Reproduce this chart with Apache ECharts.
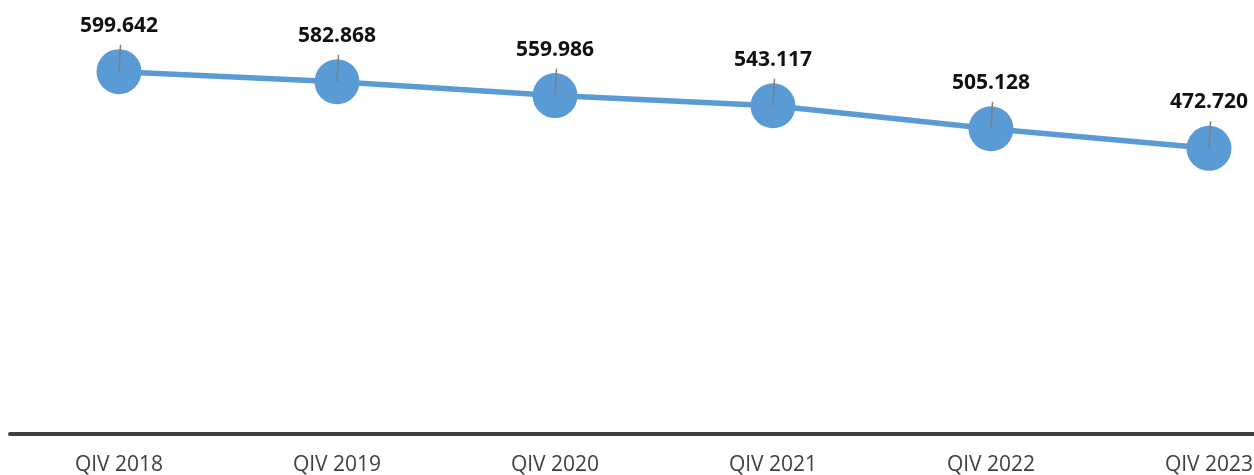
<!DOCTYPE html>
<html>
<head>
<meta charset="utf-8">
<style>
  html, body { margin: 0; padding: 0; background: #fff; }
  #chart { width: 1254px; height: 475px; }
</style>
<script src="https://cdn.jsdelivr.net/npm/echarts@6/dist/echarts.min.js"></script>
</head>
<body>
<div id="chart"></div>
<script>
// 季度
const quarters = ["QIV 2018", "QIV 2019", "QIV 2020", "QIV 2021", "QIV 2022", "QIV 2023"];
// 数值
const values = [599642, 582868, 559986, 543117, 505128, 472720];
const yMax = 700000;

// 千分位用点
const fmt = (v) => String(v).replace(/\B(?=(\d{3})+(?!\d))/g, ".");

const chart = echarts.init(document.getElementById("chart"));
chart.setOption({
  animation: false,
  grid: {
    left: 10,
    width: 1308,
    top: 11,
    bottom: 41,
    containLabel: false,
    outerBoundsMode: "none",
  },
  xAxis: {
    type: "category",
    data: quarters,
    boundaryGap: true,
    axisLine: { lineStyle: { color: "#404040", width: 4 } },
    axisTick: { show: false },
    axisLabel: {
      color: "#404040",
      fontSize: 21,
      fontFamily: "Open Sans",
      margin: 21,
    },
  },
  yAxis: {
    type: "value",
    min: 0,
    max: yMax,
    show: false,
    splitLine: { show: false },
  },
  series: [
    {
      type: "line",
      data: values,
      symbol: "circle",
      symbolSize: 45,
      lineStyle: { color: "#5B9BD5", width: 5.5 },
      itemStyle: { color: "#5B9BD5" },
      label: {
        show: true,
        position: "top",
        distance: 13,
        formatter: (p) => fmt(p.value),
        color: "#111",
        fontSize: 21,
        fontWeight: "bold",
        fontFamily: "Open Sans",
      },
      z: 2,
    },
    {
      // 引导线
      type: "custom",
      data: values.map((v, i) => [i, v]),
      renderItem: (params, api) => {
        const p = api.coord([api.value(0), api.value(1)]);
        return {
          type: "line",
          shape: { x1: p[0], y1: p[1], x2: p[0] + 1.5, y2: p[1] - 27 },
          style: { stroke: "#7f7f7f", lineWidth: 1.5 },
        };
      },
      z: 3,
      silent: true,
    },
  ],
});
</script>
</body>
</html>
